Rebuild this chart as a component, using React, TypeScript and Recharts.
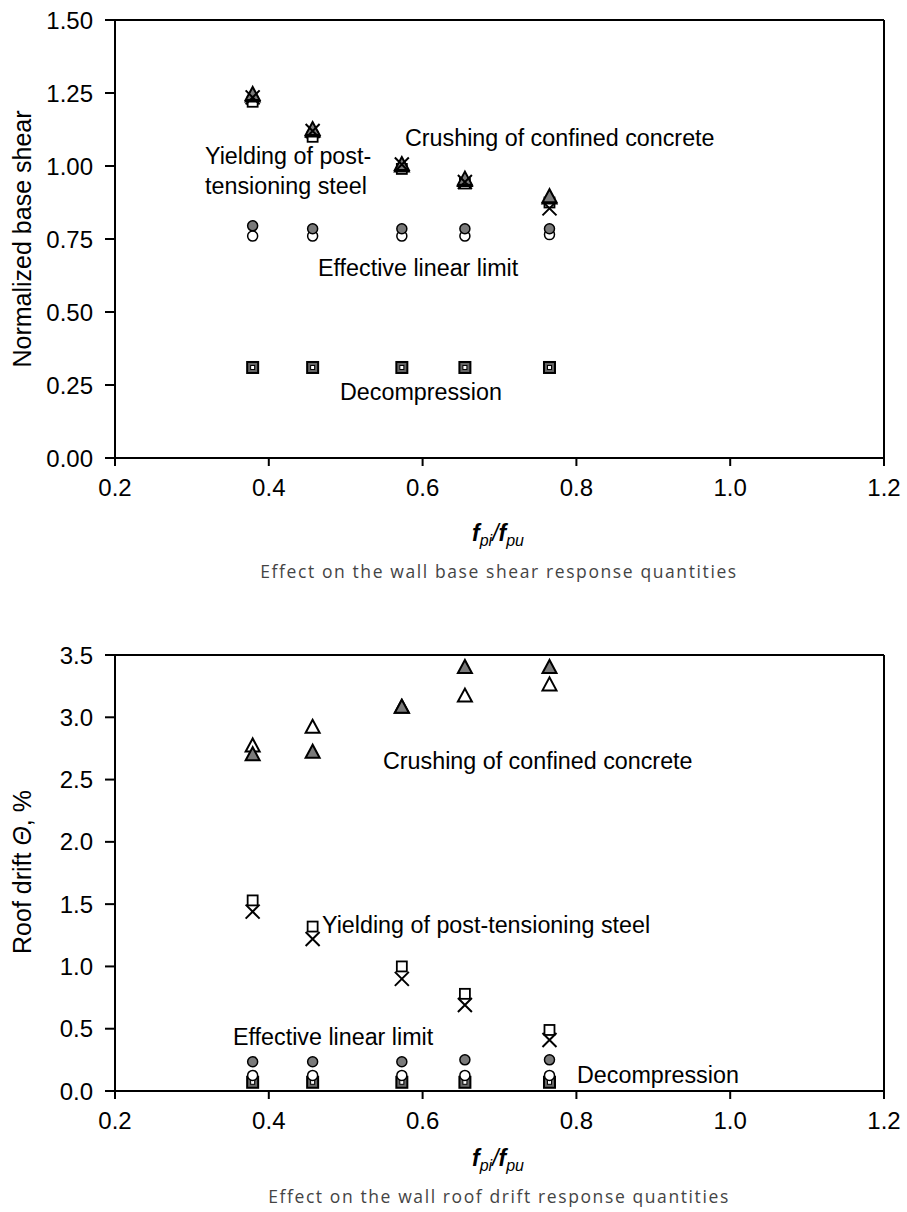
import React from 'react';
import { ScatterChart, Scatter, XAxis, YAxis, ReferenceLine } from 'recharts';

// fpi/fpu ratios of the five walls
const X_VALUES = [0.379, 0.457, 0.573, 0.655, 0.765];
const X_TICKS = [0.2, 0.4, 0.6, 0.8, 1.0, 1.2];

// Base shear (normalized)
const SHEAR_TICKS = [0, 0.25, 0.5, 0.75, 1.0, 1.25, 1.5];
const shearCrushFilled = [1.245, 1.125, 1.005, 0.955, 0.895];
const shearCrushOpen = [1.24, 1.12, 1.0, 0.95, 0.89];
const shearYieldSquare = [1.22, 1.1, 0.99, 0.94, 0.875];
const shearYieldCross = [1.235, 1.12, 1.005, 0.945, 0.855];
const shearLinearFilled = [0.795, 0.785, 0.785, 0.785, 0.785];
const shearLinearOpen = [0.76, 0.76, 0.76, 0.76, 0.765];
const shearDecomp = [0.31, 0.31, 0.31, 0.31, 0.31];

// Roof drift, %
const DRIFT_TICKS = [0, 0.5, 1.0, 1.5, 2.0, 2.5, 3.0, 3.5];
const driftCrushFilled = [2.7, 2.72, 3.08, 3.4, 3.4];
const driftCrushOpen = [2.77, 2.92, 3.08, 3.17, 3.26];
const driftYieldSquare = [1.53, 1.32, 1.0, 0.78, 0.49];
const driftYieldCross = [1.44, 1.22, 0.9, 0.69, 0.41];
const driftLinearFilled = [0.235, 0.235, 0.235, 0.25, 0.25];
const driftLinearOpen = [0.125, 0.125, 0.125, 0.125, 0.125];
const driftDecomp = [0.07, 0.07, 0.07, 0.07, 0.07];

const toPoints = (ys: number[]) => X_VALUES.map((x, i) => ({ x, y: ys[i] }));

const GRAY = '#7a7a7a';
const FONT = '"Liberation Sans", Arial, sans-serif';

const TriFilled = (p: any) => (
  <path d={`M${p.cx},${p.cy - 7.5}L${p.cx - 7},${p.cy + 5.5}L${p.cx + 7},${p.cy + 5.5}Z`} fill={GRAY} stroke="#000" strokeWidth={2} />
);
const TriOpen = (p: any) => (
  <path d={`M${p.cx},${p.cy - 7.5}L${p.cx - 7},${p.cy + 5.5}L${p.cx + 7},${p.cy + 5.5}Z`} fill="#fff" stroke="#000" strokeWidth={2} />
);
const SquareOpen = (p: any) => (
  <rect x={p.cx - 5} y={p.cy - 5} width={10} height={10} fill="#fff" stroke="#000" strokeWidth={1.8} />
);
const Cross = (p: any) => (
  <path d={`M${p.cx - 7},${p.cy - 7}L${p.cx + 7},${p.cy + 7}M${p.cx + 7},${p.cy - 7}L${p.cx - 7},${p.cy + 7}`} stroke="#000" strokeWidth={2} fill="none" />
);
const CircleFilled = (p: any) => <circle cx={p.cx} cy={p.cy} r={5} fill={GRAY} stroke="#000" strokeWidth={1.5} />;
const CircleOpen = (p: any) => <circle cx={p.cx} cy={p.cy} r={5} fill="#fff" stroke="#000" strokeWidth={1.5} />;
const DecompMarker = (p: any) => (
  <g>
    <rect x={p.cx - 5.5} y={p.cy - 5.5} width={11} height={11} fill="#666" stroke="#000" strokeWidth={2} />
    <rect x={p.cx - 2} y={p.cy - 2} width={4} height={4} fill="#fff" stroke="#000" strokeWidth={1} />
  </g>
);

type PanelProps = {
  top: number;
  ticks: number[];
  yMax: number;
  decimals: number;
  xAxisHeight: number;
  series: {
    crushFilled: number[];
    crushOpen: number[];
    yieldSquare: number[];
    yieldCross: number[];
    linearFilled: number[];
    linearOpen: number[];
    decomp: number[];
  };
};

const Panel = ({ top, ticks, yMax, decimals, xAxisHeight, series }: PanelProps) => (
  <div style={{ position: 'absolute', left: 0, top }}>
    <ScatterChart width={907} height={520} margin={{ top: 20, right: 23, bottom: 0, left: 0 }}>
      <XAxis
        type="number"
        dataKey="x"
        domain={[0.2, 1.2]}
        ticks={X_TICKS}
        tickFormatter={(v: number) => v.toFixed(1)}
        height={xAxisHeight}
        stroke="#000"
        strokeWidth={2}
        tickSize={8}
        tickMargin={13}
        tick={{ fill: '#000', fontSize: 24, fontFamily: FONT }}
        allowDataOverflow
      />
      <YAxis
        type="number"
        dataKey="y"
        domain={[0, yMax]}
        ticks={ticks}
        tickFormatter={(v: number) => v.toFixed(decimals)}
        width={115}
        stroke="#000"
        strokeWidth={2}
        tickSize={10}
        tickMargin={12}
        tick={{ fill: '#000', fontSize: 24, fontFamily: FONT }}
        allowDataOverflow
      />
      <ReferenceLine y={yMax} stroke="#000" strokeWidth={2} />
      <ReferenceLine x={1.2} stroke="#000" strokeWidth={2} />
      <Scatter data={toPoints(series.decomp)} shape={DecompMarker} isAnimationActive={false} />
      <Scatter data={toPoints(series.linearOpen)} shape={CircleOpen} isAnimationActive={false} />
      <Scatter data={toPoints(series.linearFilled)} shape={CircleFilled} isAnimationActive={false} />
      <Scatter data={toPoints(series.yieldSquare)} shape={SquareOpen} isAnimationActive={false} />
      <Scatter data={toPoints(series.crushOpen)} shape={TriOpen} isAnimationActive={false} />
      <Scatter data={toPoints(series.crushFilled)} shape={TriFilled} isAnimationActive={false} />
      <Scatter data={toPoints(series.yieldCross)} shape={Cross} isAnimationActive={false} />
    </ScatterChart>
  </div>
);

const XTitle = ({ y }: { y: number }) => (
  <text x={498} y={y} textAnchor="middle" fontFamily={FONT} fontSize={23} fontStyle="italic">
    <tspan fontWeight="bold">f</tspan>
    <tspan fontSize={16} dy={5}>pi</tspan>
    <tspan dy={-5}>/</tspan>
    <tspan fontWeight="bold">f</tspan>
    <tspan fontSize={16} dy={5}>pu</tspan>
  </text>
);

const Caption = ({ y, children }: { y: number; children: React.ReactNode }) => (
  <text x={499} y={y} textAnchor="middle" fontFamily='"Open Sans", Lato, sans-serif' fontSize={17.5} letterSpacing={1.6} fill="#444">
    {children}
  </text>
);

const Note = ({ x, y, children }: { x: number; y: number; children: React.ReactNode }) => (
  <text x={x} y={y} fontFamily={FONT} fontSize={23.3} fill="#000">
    {children}
  </text>
);

export default function App() {
  return (
    <div style={{ position: 'absolute', left: 0, top: 0, width: 907, height: 1212, background: '#fff' }}>
      <Panel
        top={0}
        ticks={SHEAR_TICKS}
        yMax={1.5}
        decimals={2}
        xAxisHeight={62}
        series={{
          crushFilled: shearCrushFilled,
          crushOpen: shearCrushOpen,
          yieldSquare: shearYieldSquare,
          yieldCross: shearYieldCross,
          linearFilled: shearLinearFilled,
          linearOpen: shearLinearOpen,
          decomp: shearDecomp,
        }}
      />
      <Panel
        top={635}
        ticks={DRIFT_TICKS}
        yMax={3.5}
        decimals={1}
        xAxisHeight={64}
        series={{
          crushFilled: driftCrushFilled,
          crushOpen: driftCrushOpen,
          yieldSquare: driftYieldSquare,
          yieldCross: driftYieldCross,
          linearFilled: driftLinearFilled,
          linearOpen: driftLinearOpen,
          decomp: driftDecomp,
        }}
      />
      <svg width={907} height={1212} style={{ position: 'absolute', left: 0, top: 0, pointerEvents: 'none' }}>
        {/* top panel */}
        <text transform="translate(31,239) rotate(-90)" textAnchor="middle" fontFamily={FONT} fontSize={25}>
          Normalized base shear
        </text>
        <XTitle y={541} />
        <Caption y={578}>Effect on the wall base shear response quantities</Caption>
        <Note x={405} y={146}>Crushing of confined concrete</Note>
        <Note x={205} y={164}>Yielding of post-</Note>
        <Note x={205} y={194}>tensioning steel</Note>
        <Note x={318} y={276}>Effective linear limit</Note>
        <Note x={340} y={400}>Decompression</Note>

        {/* bottom panel */}
        <text transform="translate(31,872) rotate(-90)" textAnchor="middle" fontFamily={FONT} fontSize={25}>
          Roof drift <tspan fontStyle="italic">Θ</tspan>, %
        </text>
        <XTitle y={1166} />
        <Caption y={1203}>Effect on the wall roof drift response quantities</Caption>
        <Note x={383} y={769}>Crushing of confined concrete</Note>
        <Note x={322} y={933}>Yielding of post-tensioning steel</Note>
        <Note x={233} y={1045}>Effective linear limit</Note>
        <Note x={577} y={1083}>Decompression</Note>
      </svg>
    </div>
  );
}
